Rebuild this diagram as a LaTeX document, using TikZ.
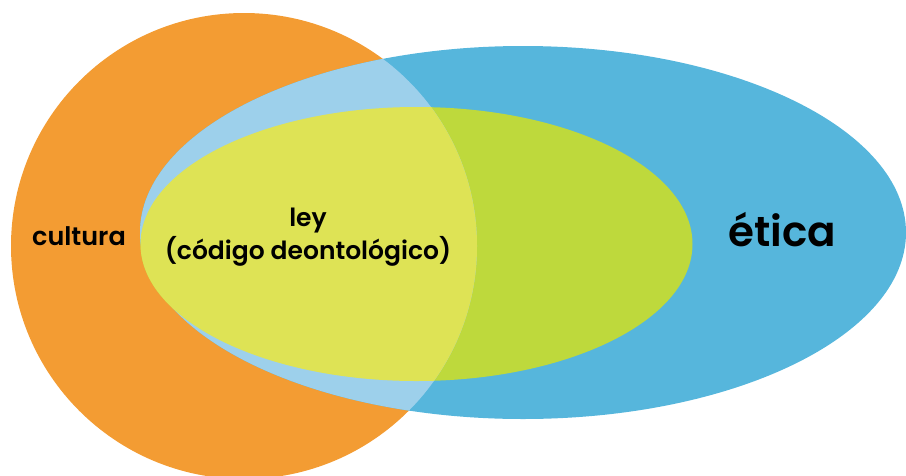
\documentclass[tikz,border=0pt]{standalone}
\usepackage{fontspec}
\setmainfont{Poppins}[BoldFont={Poppins SemiBold}]
\definecolor{orangeC}{HTML}{F39C33}
\definecolor{blueC}{HTML}{56B6DC}
\definecolor{greenC}{HTML}{BED93C}
\definecolor{lightblueC}{HTML}{9DD0EB}
\definecolor{yellowC}{HTML}{DEE355}
\tikzset{lbl/.style={font=\bfseries, text=black, align=center, inner sep=0pt}}
\begin{document}
\begin{tikzpicture}[x=1pt,y=-1pt]
\useasboundingbox (0,0) rectangle (906,475);
\clip (0,0) rectangle (906,475);
\fill[orangeC] (244,246) circle[radius=233pt];
\fill[blueC] (523,232.5) ellipse[x radius=383pt, y radius=186.5pt];
\fill[greenC] (416.5,244) ellipse[x radius=276pt, y radius=137pt];
\begin{scope}
\clip (244,246) circle[radius=233pt];
\fill[lightblueC] (523,232.5) ellipse[x radius=383pt, y radius=186.5pt];
\fill[yellowC] (416.5,244) ellipse[x radius=276pt, y radius=137pt];
\end{scope}
\node[lbl, font=\bfseries\fontsize{25.5}{30}\selectfont] (cultura) at (79,236) {cultura};
\node[lbl, font=\bfseries\fontsize{25}{33}\selectfont] (ley) at (308,237) {ley\\(código deontológico)};
\node[lbl, font=\bfseries\fontsize{42}{50}\selectfont] (etica) at (782,230) {ética};
\end{tikzpicture}
\end{document}
